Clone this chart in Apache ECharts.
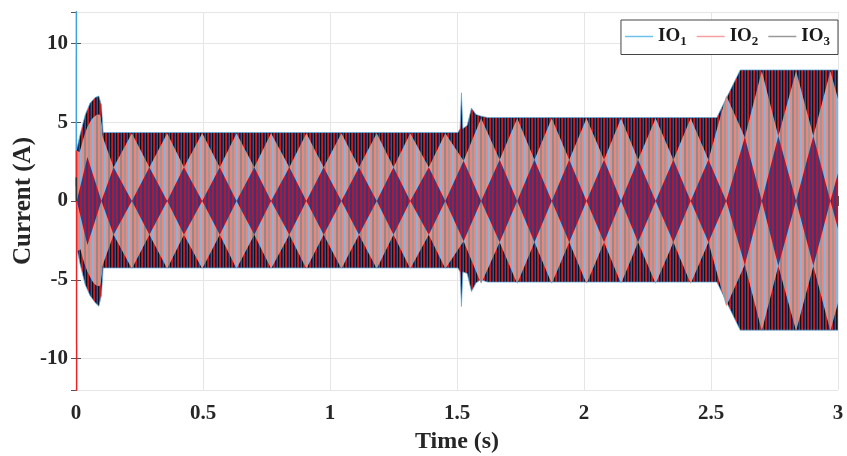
<!DOCTYPE html>
<html>
<head>
<meta charset="utf-8">
<script src="https://cdn.jsdelivr.net/npm/echarts@6/dist/echarts.min.js"></script>
<style>
  html, body { margin: 0; padding: 0; background: #fff; }
  #chart { width: 847px; height: 456px; }
</style>
</head>
<body>
<div id="chart"></div>
<script>
// lattice of the aliased 3-phase waveform
// cusp = where the light cells touch the band edge, center = where the dark domes / diamonds sit
var cuspT = [0.003, 0.100, 0.220, 0.359, 0.497, 0.632, 0.768, 0.907, 1.045, 1.184, 1.316, 1.454,
             1.595, 1.737, 1.873, 2.010, 2.146, 2.282, 2.420, 2.560, 2.700, 2.835, 2.970, 3.105];
var cuspA = [3.2, 4.3, 4.3, 4.3, 4.3, 4.3, 4.3, 4.3, 4.3, 4.3, 4.3, 4.3,
             5.25, 5.25, 5.25, 5.25, 5.25, 5.25, 5.25, 6.7, 8.25, 8.25, 8.25, 8.25];
var centerT = [0.045, 0.148, 0.289, 0.425, 0.566, 0.702, 0.840, 0.975, 1.114, 1.250, 1.389,
               1.526, 1.668, 1.805, 1.942, 2.079, 2.213, 2.352, 2.490, 2.633, 2.765, 2.903, 3.040];
var centerA = [5.6, 4.3, 4.3, 4.3, 4.3, 4.3, 4.3, 4.3, 4.3, 4.3, 4.3,
               5.1, 5.25, 5.25, 5.25, 5.25, 5.25, 5.25, 5.25, 8.1, 8.25, 8.25, 8.25];
var levelCycle = [1, 0.5, 0, -0.5, -1, -0.5, 0, 0.5];   // level of a lattice line at successive vertices

// outer envelope of the band (upper / lower)
var envT  = [0.003, 0.016, 0.036, 0.055, 0.075, 0.090, 0.100, 0.107, 1.504, 1.512, 1.5175, 1.523, 1.540, 1.557, 1.575, 1.593, 1.620, 2.523, 2.615, 3.000];
var envUp = [3.3, 4.2, 5.46, 6.2, 6.57, 6.67, 6.1, 4.35, 4.35, 4.6, 6.87, 4.6, 4.8, 5.9, 5.5, 5.4, 5.3, 5.3, 8.32, 8.32];
var envLo = [-3.0, -4.0, -5.3, -6.0, -6.45, -6.68, -6.0, -4.25, -4.25, -4.5, -6.7, -4.5, -4.6, -5.75, -5.2, -5.0, -5.15, -5.15, -8.2, -8.2];

// light inner part of the start-up lobe
var humpT  = [0.003, 0.016, 0.036, 0.055, 0.075, 0.090, 0.100, 0.104];
var humpUp = [2.6, 3.2, 4.3, 5.0, 5.4, 5.5, 5.0, 4.3];
var humpLo = [-2.4, -3.0, -4.1, -4.8, -5.3, -5.4, -4.9, -4.2];

// switching spikes at t = 0
var io1 = [[0.0010, 0.9], [0.0015, 12.5]];
var io2 = [[0.0020, 3.2], [0.0025, -12.5]];
var io3 = [[0.0012, 1.5], [0.0014, 0.0]];

var FONT = 'Liberation Serif';

function stripes(colors, w) {  // vertical stripe texture, w px per stripe
    var c = document.createElement('canvas');
    c.width = colors.length * w; c.height = 4;
    var g = c.getContext('2d');
    for (var i = 0; i < colors.length; i++) { g.fillStyle = colors[i]; g.fillRect(i * w, 0, w, 4); }
    return { image: c, repeat: 'repeat' };
}
var darkFill  = stripes(['#1a2f6a', '#d01820', '#121212', '#22468a', '#c81a22', '#141414'], 1);
var lightFill = stripes(['#8c8c8c', '#f2837a', '#9a9a9a', '#f0877f', '#7fb8e0', '#ef8a82'], 2);
var midFill   = stripes(['#b8142c', '#3a3a80', '#ac1838', '#3c3478'], 2);

// interleave cusps and centers
var verts = [];
for (var i = 0; i < cuspT.length; i++) {
    verts.push({ t: cuspT[i], a: cuspA[i] });
    if (i < centerT.length) verts.push({ t: centerT[i], a: centerA[i] });
}

function zip(ts, vs) { return ts.map(function (t, i) { return [t, vs[i]]; }); }

function areaSeries(data, fill, smooth, edge) {
    return {
        type: 'line', data: data, smooth: smooth, symbol: 'none', silent: true,
        lineStyle: edge ? { width: 1, color: edge, opacity: 0.7 } : { width: 0, opacity: 0 },
        areaStyle: { color: fill, opacity: 1 }
    };
}

var series = [];
series.push(areaSeries(zip(envT, envUp), darkFill, false, '#5aaee0'));
series.push(areaSeries(zip(envT, envLo), darkFill, false, '#5aaee0'));
for (var j = 0; j < 4; j++) {
    series.push(areaSeries(verts.map(function (v, k) {
        return [v.t, levelCycle[(k + 2 * j) % 8] * v.a];
    }), lightFill, false));
}
series.push(areaSeries(zip(humpT, humpUp), lightFill, true));
series.push(areaSeries(zip(humpT, humpLo), lightFill, true));
series.push(areaSeries(verts.map(function (v, k) { return [v.t, k % 2 ? levelCycle[1] * v.a : 0]; }), midFill, false));
series.push(areaSeries(verts.map(function (v, k) { return [v.t, k % 2 ? levelCycle[3] * v.a : 0]; }), midFill, false));

series.push({ name: 'IO1', type: 'line', data: io1, symbol: 'none', color: '#3fa3e0', lineStyle: { width: 1.5 }, z: 5 });
series.push({ name: 'IO2', type: 'line', data: io2, symbol: 'none', color: '#e8242a', lineStyle: { width: 1.5 }, z: 5 });
series.push({ name: 'IO3', type: 'line', data: io3, symbol: 'none', color: '#333333', lineStyle: { width: 1.5 }, z: 5 });

var axisCol = '#555';
var labelStyle = { fontFamily: FONT, fontWeight: 'bold', fontSize: 21, color: '#262626' };

var myChart = echarts.init(document.getElementById('chart'));
var option = {
    animation: false,
    grid: { left: 76, right: 9, top: 12, bottom: 66, outerBoundsMode: 'none' },
    legend: {
        data: [
            { name: 'IO1', itemStyle: { color: '#6cc0ec' } },
            { name: 'IO2', itemStyle: { color: '#f4a0a0' } },
            { name: 'IO3', itemStyle: { color: '#999999' } }
        ],
        icon: 'rect',
        right: 9, top: 20,
        backgroundColor: '#fff', borderColor: '#444', borderWidth: 1, borderRadius: 0,
        padding: [7, 8, 6, 4], itemGap: 10, itemWidth: 28, itemHeight: 1.5,
        formatter: function (name) { return 'IO{s|' + name.charAt(2) + '}'; },
        textStyle: {
            fontFamily: FONT, fontWeight: 'bold', fontSize: 19, color: '#1a1a1a',
            rich: { s: { fontFamily: FONT, fontWeight: 'bold', fontSize: 13, color: '#1a1a1a', padding: [11, 0, 0, 0] } }
        }
    },
    xAxis: [{
        type: 'value', min: 0, max: 3, interval: 0.5, position: 'bottom',
        name: 'Time (s)', nameLocation: 'middle', nameGap: 40, nameMoveOverlap: false,
        nameTextStyle: { fontFamily: FONT, fontWeight: 'bold', fontSize: 24, color: '#262626' },
        axisLine: { lineStyle: { color: axisCol } },
        axisTick: { inside: true, length: 5, lineStyle: { color: axisCol } },
        axisLabel: Object.assign({ margin: 13 }, labelStyle),
        splitLine: { show: true, lineStyle: { color: '#e6e6e6' } }
    }, {
        type: 'value', min: 0, max: 3, interval: 0.5, position: 'top',
        axisLine: { lineStyle: { color: axisCol } },
        axisTick: { inside: true, length: 5, lineStyle: { color: axisCol } },
        axisLabel: { show: false }, splitLine: { show: false }
    }],
    yAxis: [{
        type: 'value', min: -12, max: 12, splitNumber: 5, position: 'left',
        name: 'Current (A)', nameLocation: 'middle', nameGap: 40, nameMoveOverlap: false,
        nameTextStyle: { fontFamily: FONT, fontWeight: 'bold', fontSize: 25, color: '#262626' },
        axisLine: { show: true, lineStyle: { color: axisCol } },
        axisTick: { show: true, inside: true, length: 5, lineStyle: { color: axisCol } },
        axisLabel: Object.assign({ margin: 8, showMinLabel: false, showMaxLabel: false }, labelStyle),
        splitLine: { show: true, lineStyle: { color: '#e6e6e6' } }
    }, {
        type: 'value', min: -12, max: 12, splitNumber: 5, position: 'right',
        axisLine: { show: true, lineStyle: { color: axisCol } },
        axisTick: { show: true, inside: true, length: 5, lineStyle: { color: axisCol } },
        axisLabel: { show: false }, splitLine: { show: false }
    }],
    series: series
};
myChart.setOption(option);
window.addEventListener('resize', function () { myChart.resize(); });
</script>
</body>
</html>
